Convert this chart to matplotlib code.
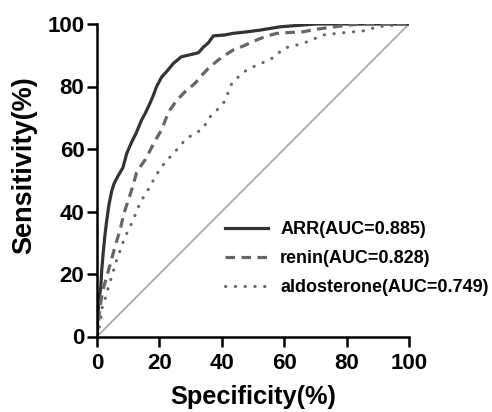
import matplotlib
matplotlib.use("Agg")
import matplotlib.pyplot as plt

# ROC points, x = 100 - specificity, y = sensitivity (%)
arr_x = [0, 0.2, 0.4, 0.8, 1.2, 1.5, 2.0, 2.5, 3.1, 3.8, 4.7, 5.5, 6.8, 8.3, 9.5,
         11, 12.5, 14.3, 15.5, 17, 18, 19.1, 20.7, 22.5, 24.5, 27, 30, 32.5, 34,
         35.7, 37.3, 41, 43.6, 48, 52, 58.7, 65, 70, 100]
arr_y = [0, 5, 8.5, 13, 15.5, 21, 27, 32, 37, 42, 46.5, 49, 51.5, 54, 58.5,
         62, 65, 69.3, 71.5, 74.7, 77, 80, 83, 85, 87.4, 89.5, 90.2, 90.8, 92.5,
         94, 96.2, 96.5, 97, 97.5, 98, 99.1, 99.6, 100, 100]

renin_x = [0, 0.3, 0.6, 1.0, 1.5, 2.2, 3.1, 4.2, 5.2, 6.3, 7.4, 8.2, 9, 10, 11.1,
           12, 12.7, 14, 15.4, 17, 18.8, 20.7, 22, 23.4, 25.5, 28.2, 31.4, 33.5,
           35.7, 38.9, 41, 43.7, 47, 51.2, 54, 57.6, 62, 66, 70, 74.7, 80, 85, 100]
renin_y = [0, 3, 6.3, 9.5, 12.7, 16, 19.1, 23, 26.7, 30.5, 34.1, 37.5, 40.5, 43.5, 46.9,
           50, 52.5, 54.5, 56.5, 59.5, 63, 66.1, 69.5, 72.5, 75.5, 78.3, 81, 83.5,
           85.8, 88.5, 90, 91.7, 93, 94.9, 96, 97, 97.3, 97.5, 98.3, 98.9, 99.6, 100, 100]

aldo_x = [0, 0.5, 1, 1.7, 2.8, 3.7, 4.7, 6.3, 7.6, 9, 10.3, 11.6, 12.7, 13.8, 15.4,
          17, 18.6, 20.7, 22.8, 25, 28.7, 31.5, 34.1, 35.7, 38, 40.5, 42, 43.2, 45.5,
          48, 50.5, 53.8, 57, 59.7, 63, 66.1, 69.5, 72.5, 79, 86.4, 89.6, 95, 100]
aldo_y = [0, 2, 4.3, 9.5, 12.7, 16, 19.1, 24.5, 28, 31.9, 34.5, 37.3, 40, 42.7, 45.5,
          47.9, 51.1, 54.3, 56.8, 59.1, 63.4, 65, 66.6, 69.8, 72, 74.6, 78, 81, 83.3,
          85.3, 86.5, 87.9, 89.5, 92.2, 93, 93.8, 95.2, 96.5, 97.2, 97.9, 99.1, 99.6, 100]

labels = ["ARR(AUC=0.885)", "renin(AUC=0.828)", "aldosterone(AUC=0.749)"]
ticks = [0, 20, 40, 60, 80, 100]

plt.rcParams["font.family"] = ["Liberation Sans", "DejaVu Sans"]
plt.rcParams["font.weight"] = "bold"

fig = plt.figure(figsize=(4.92, 4.12), dpi=100)
ax = fig.add_axes([97 / 492, 1 - 336.5 / 412, 312 / 492, 312.5 / 412])

# reference line first so the curves sit on top of it
ax.plot([0, 100], [0, 100], color="#aaaaaa", lw=1.3)
ax.plot(arr_x, arr_y, color="#333333", lw=2.3, label=labels[0])
ax.plot(renin_x, renin_y, color="#666666", lw=2.3, ls=(0, (3, 2)),
        dash_capstyle="butt", label=labels[1])
ax.plot(aldo_x, aldo_y, color="#666666", lw=2.2, ls=(0, (0.1, 3.1)),
        dash_capstyle="round", label=labels[2])

ax.set_xlim(0, 100)
ax.set_ylim(0, 100)
ax.set_xticks(ticks)
ax.set_yticks(ticks)
for side in ("top", "right"):
    ax.spines[side].set_visible(False)
for side in ("left", "bottom"):
    ax.spines[side].set_linewidth(1.8)
ax.tick_params(length=7, width=1.8, labelsize=16)
ax.tick_params(axis="x", pad=5)
ax.tick_params(axis="y", pad=2)

ax.set_xlabel("Specificity(%)", fontsize=18.3, fontweight="bold", labelpad=8)
ax.set_ylabel("Sensitivity(%)", fontsize=19.5, fontweight="bold")
ax.yaxis.set_label_coords(-0.19, 0.55)

ax.legend(loc="upper left", bbox_to_anchor=(225 / 492, 1 - 221 / 412),
          bbox_transform=fig.transFigure, frameon=False,
          handlelength=2.4, handletextpad=0.65, labelspacing=0.67,
          borderpad=0, borderaxespad=0,
          prop={"weight": "bold", "size": 13})

fig.savefig("out.png", dpi=100)
